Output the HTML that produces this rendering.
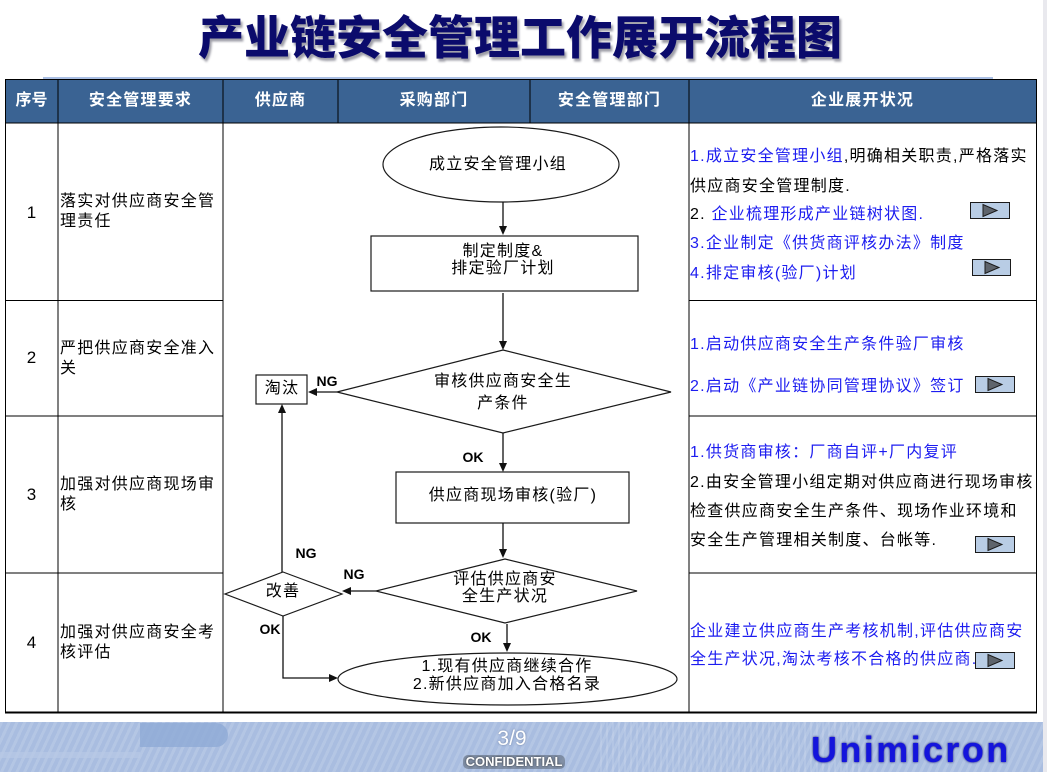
<!DOCTYPE html>
<html><head><meta charset="utf-8">
<style>
html,body{margin:0;padding:0;background:#fff;}
body{width:1047px;height:772px;position:relative;overflow:hidden;font-family:"Liberation Sans","Noto Sans CJK SC",sans-serif;}
.t{position:absolute;white-space:nowrap;font-size:16px;letter-spacing:1.25px;line-height:20px;color:#000;}
.c{text-align:center;width:360px;}
.b{color:#1c1cf0;}
.h{position:absolute;top:91px;line-height:20px;color:#fff;font-weight:bold;font-size:16px;letter-spacing:1.2px;text-align:center;white-space:nowrap;}
.lab{position:absolute;font-family:"Liberation Sans",sans-serif;font-weight:bold;font-size:14px;line-height:16px;width:40px;text-align:center;}
.num{position:absolute;left:5px;width:53px;text-align:center;font-size:17px;line-height:20px;}
#title{position:absolute;left:0;top:11px;width:1040px;text-align:center;font-size:46px;line-height:48px;font-weight:900;color:#0b0b6c;font-family:"Noto Sans CJK SC","WenQuanYi Zen Hei",sans-serif;text-shadow:2px 3px 2px rgba(40,40,60,0.45);}
#footer{position:absolute;left:0;top:722px;width:1043px;height:50px;background:#a9bde0;
background-image:repeating-linear-gradient(115deg,rgba(255,255,255,0.13) 0 3px,rgba(0,0,0,0) 3px 7px);}
</style></head>
<body>
<div id="title">产业链安全管理工作展开流程图</div>

<svg width="1047" height="772" style="position:absolute;left:0;top:0" xmlns="http://www.w3.org/2000/svg">
 <!-- title underline -->
 <line x1="43" y1="78" x2="993" y2="78" stroke="#8eaadb" stroke-width="1.5"/>
 <!-- header -->
 <rect x="5" y="80" width="1031" height="43" fill="#3a6393"/>
 <g stroke="#000" stroke-width="1.3" shape-rendering="crispEdges" fill="none">
  <line x1="5" y1="79.5" x2="1037" y2="79.5"/>
  <line x1="5" y1="123" x2="1037" y2="123"/>
  <line x1="5" y1="300.5" x2="223" y2="300.5"/>
  <line x1="689" y1="300.5" x2="1037" y2="300.5"/>
  <line x1="5" y1="416" x2="223" y2="416"/>
  <line x1="689" y1="416" x2="1037" y2="416"/>
  <line x1="5" y1="573" x2="223" y2="573"/>
  <line x1="689" y1="573" x2="1037" y2="573"/>
  <line x1="5" y1="712.5" x2="1037" y2="712.5" stroke-width="2"/>
  <line x1="5.5" y1="79" x2="5.5" y2="713"/>
  <line x1="58" y1="79" x2="58" y2="713"/>
  <line x1="223" y1="79" x2="223" y2="713"/>
  <line x1="338" y1="79" x2="338" y2="123"/>
  <line x1="530" y1="79" x2="530" y2="123"/>
  <line x1="689" y1="79" x2="689" y2="713"/>
  <line x1="1036.5" y1="79" x2="1036.5" y2="713"/>
 </g>

 <!-- flowchart -->
 <g stroke="#1a1a1a" stroke-width="1.2" fill="#fff">
  <ellipse cx="501" cy="164.5" rx="118" ry="37.5"/>
  <rect x="371" y="236" width="267" height="55"/>
  <polygon points="503,350 671,392 503,433 337,392"/>
  <rect x="256" y="375" width="51" height="29"/>
  <rect x="396" y="472" width="233" height="51"/>
  <polygon points="505,559 637,591 505,623 376,591"/>
  <polygon points="283,572 342,594 283,616 225,594"/>
  <ellipse cx="507.5" cy="679" rx="169.5" ry="26"/>
 </g>
 <g stroke="#111" stroke-width="1.3" fill="none">
  <line x1="503" y1="202" x2="503" y2="227"/>
  <line x1="503" y1="293" x2="503" y2="342"/>
  <line x1="337" y1="392" x2="316" y2="392"/>
  <line x1="282" y1="572" x2="282" y2="412"/>
  <line x1="503" y1="433" x2="503" y2="464"/>
  <line x1="503" y1="523" x2="503" y2="550"/>
  <line x1="376" y1="591" x2="350" y2="591"/>
  <polyline points="283,616 283,678 330,678"/>
  <line x1="507" y1="624" x2="507" y2="644"/>
 </g>
 <g fill="#111">
  <polygon points="499,226 507,226 503,235"/>
  <polygon points="499,341 507,341 503,350"/>
  <polygon points="317,388 317,396 308,392"/>
  <polygon points="278,413 286,413 282,404"/>
  <polygon points="499,463 507,463 503,472"/>
  <polygon points="499,549 507,549 503,558"/>
  <polygon points="351,587 351,595 342,591"/>
  <polygon points="329,674 329,682 338,678"/>
  <polygon points="503,643 511,643 507,652"/>
 </g>

 <!-- buttons -->
 <g stroke="#1a1a1a" stroke-width="1">
  <rect x="970.5" y="202.5" width="39" height="16" fill="#b9cde5"/>
  <polygon points="983,204.5 983,216.5 997,210.5" fill="#5e646c"/>
  <rect x="972.5" y="259.5" width="38" height="16" fill="#b9cde5"/>
  <polygon points="985,261.5 985,273.5 999,267.5" fill="#5e646c"/>
  <rect x="975.5" y="376.5" width="39" height="16" fill="#b9cde5"/>
  <polygon points="988,378.5 988,390.5 1002,384.5" fill="#5e646c"/>
  <rect x="975.5" y="536.5" width="39" height="16" fill="#b9cde5"/>
  <polygon points="988,538.5 988,550.5 1002,544.5" fill="#5e646c"/>
 </g>
</svg>

<!-- header texts -->
<div class="h" style="left:5px;width:53px;letter-spacing:0">序号</div>
<div class="h" style="left:58px;width:165px">安全管理要求</div>
<div class="h" style="left:223px;width:115px">供应商</div>
<div class="h" style="left:338px;width:192px">采购部门</div>
<div class="h" style="left:530px;width:159px">安全管理部门</div>
<div class="h" style="left:689px;width:347px">企业展开状况</div>

<!-- row numbers -->
<div class="num" style="top:203px">1</div>
<div class="num" style="top:348px">2</div>
<div class="num" style="top:485px">3</div>
<div class="num" style="top:633px">4</div>

<!-- requirements -->
<div class="t" style="left:60px;top:192px">落实对供应商安全管<br>理责任</div>
<div class="t" style="left:60px;top:339px">严把供应商安全准入<br>关</div>
<div class="t" style="left:60px;top:475px">加强对供应商现场审<br>核</div>
<div class="t" style="left:60px;top:623px">加强对供应商安全考<br>核评估</div>

<!-- flowchart text -->
<div class="t c" style="left:318px;top:155px">成立安全管理小组</div>
<div class="t c" style="left:323px;top:243px;line-height:17px">制定制度&amp;<br>排定验厂计划</div>
<div class="t c" style="left:323px;top:371px;line-height:22px">审核供应商安全生<br>产条件</div>
<div class="t c" style="left:102px;top:379px">淘汰</div>
<div class="t c" style="left:333px;top:486px">供应商现场审核(验厂)</div>
<div class="t c" style="left:325px;top:571px;line-height:17px">评估供应商安<br>全生产状况</div>
<div class="t c" style="left:103px;top:582px">改善</div>
<div class="t c" style="left:327px;top:658px;line-height:18px">1.现有供应商继续合作<br>2.新供应商加入合格名录</div>

<!-- NG/OK labels -->
<div class="lab" style="left:307px;top:373px">NG</div>
<div class="lab" style="left:453px;top:449px">OK</div>
<div class="lab" style="left:286px;top:545px">NG</div>
<div class="lab" style="left:334px;top:566px">NG</div>
<div class="lab" style="left:250px;top:621px">OK</div>
<div class="lab" style="left:461px;top:629px">OK</div>

<!-- right column -->
<div class="t" style="left:690px;top:147px"><span class="b">1.成立安全管理小组</span>,明确相关职责,严格落实</div>
<div class="t" style="left:690px;top:177px">供应商安全管理制度.</div>
<div class="t" style="left:690px;top:205px">2. <span class="b">企业梳理形成产业链树状图.</span></div>
<div class="t b" style="left:690px;top:234px">3.企业制定《供货商评核办法》制度</div>
<div class="t b" style="left:690px;top:264px">4.排定审核(验厂)计划</div>

<div class="t b" style="left:690px;top:335px">1.启动供应商安全生产条件验厂审核</div>
<div class="t b" style="left:690px;top:377px">2.启动《产业链协同管理协议》签订</div>

<div class="t b" style="left:690px;top:443px">1.供货商审核：厂商自评+厂内复评</div>
<div class="t" style="left:690px;top:473px">2.由安全管理小组定期对供应商进行现场审核</div>
<div class="t" style="left:690px;top:502px">检查供应商安全生产条件、现场作业环境和</div>
<div class="t" style="left:690px;top:531px">安全生产管理相关制度、台帐等.</div>

<div class="t b" style="left:690px;top:622px">企业建立供应商生产考核机制,评估供应商安</div>
<div class="t b" style="left:690px;top:650px">全生产状况,淘汰考核不合格的供应商.</div>

<svg width="60" height="30" style="position:absolute;left:960px;top:645px" xmlns="http://www.w3.org/2000/svg">
 <g stroke="#1a1a1a" stroke-width="1">
  <rect x="15.5" y="7.5" width="39" height="16" fill="#b9cde5"/>
  <polygon points="28,9.5 28,21.5 42,15.5" fill="#5e646c"/>
 </g>
</svg>

<!-- footer -->
<div id="footer">
 <div style="position:absolute;left:140px;top:1px;width:88px;height:24px;background:#8eaad6;border-radius:0 12px 12px 0;opacity:0.8"></div>
 <div style="position:absolute;left:0;top:30px;width:140px;height:6px;background:#b8c9e6;opacity:0.7"></div>
 <div style="position:absolute;left:600px;top:0;width:260px;height:50px;background:repeating-linear-gradient(90deg,rgba(255,255,255,0.12) 0 2px,rgba(0,0,0,0) 2px 6px)"></div>
 <div style="position:absolute;left:490px;top:6px;width:44px;text-align:center;font-family:'Liberation Sans Narrow','Liberation Sans',sans-serif;font-size:21px;line-height:22px;color:#fff;text-shadow:0 0 2px #6b7da0">3/9</div>
 <div style="position:absolute;left:463px;top:33px;width:102px;height:14px;text-align:center;font-family:'Liberation Sans Narrow','Liberation Sans',sans-serif;font-weight:bold;font-size:13px;line-height:14px;color:#fff;background:rgba(90,100,115,0.55);border-radius:5px;text-shadow:0 0 2px #333">CONFIDENTIAL</div>
 <div style="position:absolute;left:811px;top:8px;font-family:'Liberation Sans',sans-serif;font-weight:bold;font-size:36px;line-height:40px;letter-spacing:2.4px;color:#1414dc;text-shadow:0 0 2px #0a0a70">Unimicron</div>
</div>
<div style="position:absolute;left:1043px;top:0;width:4px;height:772px;background:#e9e9ee"></div>
</body></html>
